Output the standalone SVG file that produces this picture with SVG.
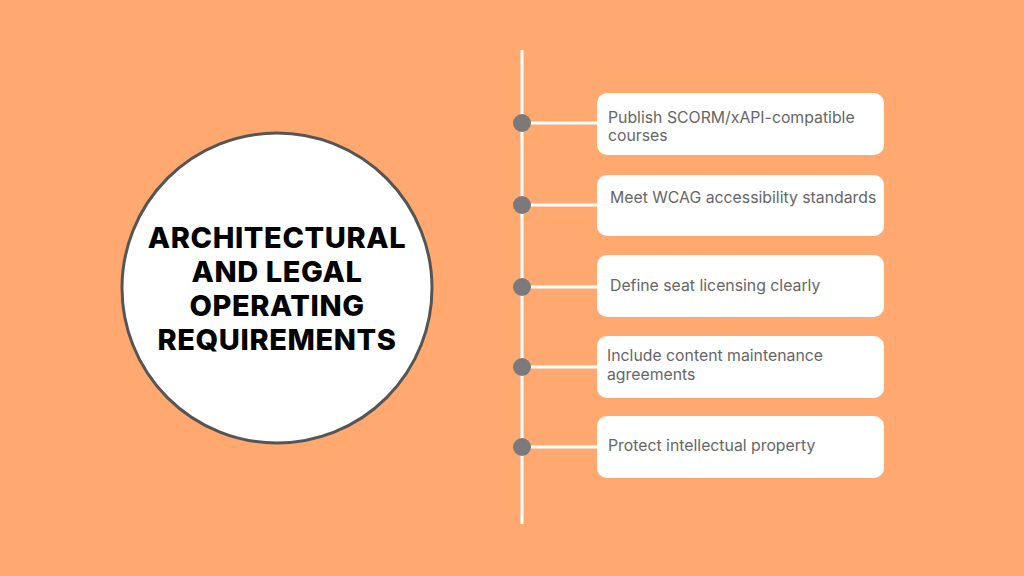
<svg xmlns="http://www.w3.org/2000/svg" width="1024" height="576" viewBox="0 0 1024 576">
<style>
.box{fill:#ffffff}
.dot{fill:#7a7a7a}
.ln{stroke:#ffffff;stroke-width:3;fill:none}
.lbl{font-family:Inter,"Noto Sans",sans-serif;font-size:15.8px;fill:#666666}
.title{font-family:Inter,"Noto Sans",sans-serif;font-size:29px;font-weight:800;fill:#000000;text-anchor:middle;letter-spacing:0.6px}
</style>
<rect width="1024" height="576" fill="#FFA970"/>
<g id="connectors">
<line class="ln" x1="522" y1="50" x2="522" y2="524"/>
<line class="ln" x1="522" y1="123" x2="597" y2="123"/>
<line class="ln" x1="522" y1="205" x2="597" y2="205"/>
<line class="ln" x1="522" y1="287" x2="597" y2="287"/>
<line class="ln" x1="522" y1="367" x2="597" y2="367"/>
<line class="ln" x1="522" y1="447" x2="597" y2="447"/>
</g>
<g id="center">
<circle cx="277" cy="288" r="155" fill="#ffffff" stroke="#555555" stroke-width="3"/>
<text class="title" x="277" y="248">ARCHITECTURAL</text>
<text class="title" x="277" y="282">AND LEGAL</text>
<text class="title" x="277" y="316">OPERATING</text>
<text class="title" x="277" y="350">REQUIREMENTS</text>
</g>
<g id="dots">
<circle class="dot" cx="522" cy="123" r="9"/>
<circle class="dot" cx="522" cy="205" r="9"/>
<circle class="dot" cx="522" cy="287" r="9"/>
<circle class="dot" cx="522" cy="367" r="9"/>
<circle class="dot" cx="522" cy="447" r="9"/>
</g>
<g id="item1">
<rect class="box" x="597" y="93" width="287" height="62" rx="10"/>
<text class="lbl" x="608" y="123">Publish SCORM/xAPI-compatible</text>
<text class="lbl" x="608" y="141">courses</text>
</g>
<g id="item2">
<rect class="box" x="597" y="175" width="287" height="61" rx="10"/>
<text class="lbl" x="610" y="203">Meet WCAG accessibility standards</text>
</g>
<g id="item3">
<rect class="box" x="597" y="255" width="287" height="62" rx="10"/>
<text class="lbl" x="610" y="291">Define seat licensing clearly</text>
</g>
<g id="item4">
<rect class="box" x="597" y="336" width="287" height="62" rx="10"/>
<text class="lbl" x="607" y="361">Include content maintenance</text>
<text class="lbl" x="607" y="380">agreements</text>
</g>
<g id="item5">
<rect class="box" x="597" y="416" width="287" height="62" rx="10"/>
<text class="lbl" x="608" y="451">Protect intellectual property</text>
</g>
</svg>
